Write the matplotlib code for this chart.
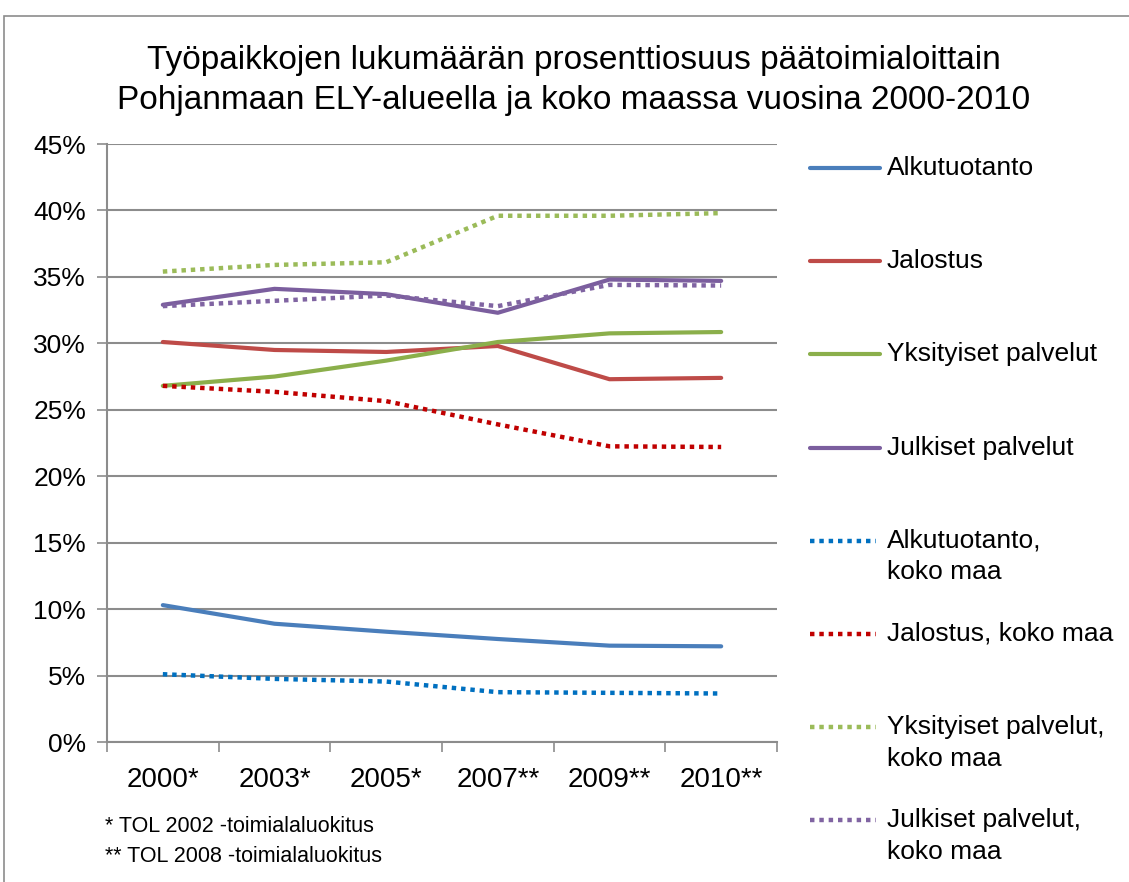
import matplotlib
matplotlib.use("Agg")
import matplotlib.pyplot as plt
from matplotlib.lines import Line2D
from matplotlib.patches import Rectangle
from matplotlib.ticker import MultipleLocator, FuncFormatter

plt.rcParams['font.family'] = ['Liberation Sans', 'DejaVu Sans']

# Data (percent)
years = ['2000*', '2003*', '2005*', '2007**', '2009**', '2010**']
alkutuotanto = [10.3, 8.9, 8.3, 7.75, 7.25, 7.2]
jalostus = [30.1, 29.5, 29.35, 29.8, 27.3, 27.4]
yksityiset = [26.8, 27.5, 28.7, 30.1, 30.75, 30.85]
julkiset = [32.9, 34.1, 33.7, 32.3, 34.8, 34.7]
alkutuotanto_maa = [5.1, 4.75, 4.55, 3.75, 3.7, 3.65]
jalostus_maa = [26.8, 26.35, 25.65, 23.9, 22.25, 22.2]
yksityiset_maa = [35.4, 35.9, 36.1, 39.6, 39.6, 39.8]
julkiset_maa = [32.8, 33.2, 33.6, 32.8, 34.4, 34.35]

series = [
    ('Alkutuotanto', alkutuotanto, '#4A7EBB', '-'),
    ('Jalostus', jalostus, '#BE4B48', '-'),
    ('Yksityiset palvelut', yksityiset, '#8BAF4B', '-'),
    ('Julkiset palvelut', julkiset, '#7B5E9E', '-'),
    ('Alkutuotanto,\nkoko maa', alkutuotanto_maa, '#0070C0', ':'),
    ('Jalostus, koko maa', jalostus_maa, '#C00000', ':'),
    ('Yksityiset palvelut,\nkoko maa', yksityiset_maa, '#9BBB59', ':'),
    ('Julkiset palvelut,\nkoko maa', julkiset_maa, '#8064A2', ':'),
]

W, H = 1129, 882
fig = plt.figure(figsize=(W / 100, H / 100), dpi=100)

# outer chart frame
fig.add_artist(Rectangle((4 / W, -0.1), 1.2, 1 - 16 / H + 0.1, transform=fig.transFigure,
                         fill=False, edgecolor='#8c8c8c', lw=1.2))

ax = fig.add_axes([107 / W, 1 - 742 / H, (777 - 107) / W, (742 - 144) / H])
x = list(range(len(years)))
dotted = (0, (1.0, 1.1))
for label, vals, color, ls in series:
    ax.plot(x, vals, color=color, lw=3.0 if ls == '-' else 3.2,
            linestyle='-' if ls == '-' else dotted,
            solid_capstyle='round', dash_capstyle='butt')

ax.set_xlim(-0.5, len(years) - 0.5)
ax.set_ylim(0, 45)
ax.yaxis.set_major_locator(MultipleLocator(5))
ax.yaxis.set_major_formatter(FuncFormatter(lambda v, p: f'{v:.0f}%'))
ax.set_xticks([i + 0.5 for i in range(-1, len(years))], minor=False)
ax.set_xticklabels([])
ax.set_xticks(x, minor=True)
ax.set_xticklabels(years, minor=True)
ax.tick_params(axis='x', which='minor', length=0, pad=18, labelsize=20)
ax.tick_params(axis='x', which='major', length=7, width=1.2, color='#8c8c8c', direction='out')
ax.tick_params(axis='y', length=7, width=1.2, color='#8c8c8c', direction='out', labelsize=19, pad=8)
ax.grid(axis='y', color='#8c8c8c', lw=1.5)
ax.set_axisbelow(True)
for s in ['top', 'right']:
    ax.spines[s].set_visible(False)
for s in ['left', 'bottom']:
    ax.spines[s].set_color('#8c8c8c')
    ax.spines[s].set_linewidth(1.5)

fig.text(574 / W, 1 - 60 / H, 'Työpaikkojen lukumäärän prosenttiosuus päätoimialoittain',
         ha='center', va='center', fontsize=24)
fig.text(574 / W, 1 - 101 / H, 'Pohjanmaan ELY-alueella ja koko maassa vuosina 2000-2010',
         ha='center', va='center', fontsize=24)

fig.text(105 / W, 1 - 826 / H, '* TOL 2002 -toimialaluokitus', ha='left', va='center', fontsize=15.5)
fig.text(105 / W, 1 - 857 / H, '** TOL 2008 -toimialaluokitus', ha='left', va='center', fontsize=15.5)

# legend
y0, step = 168, 93.2
for i, (label, vals, color, ls) in enumerate(series):
    yy = 1 - (y0 + i * step) / H
    x1 = 880 if ls == '-' else 876
    fig.add_artist(Line2D([810 / W, x1 / W], [yy, yy], transform=fig.transFigure, color=color,
                          lw=3.0 if ls == '-' else 3.2, linestyle='-' if ls == '-' else dotted,
                          solid_capstyle='round', dash_capstyle='butt'))
    fig.text(887 / W, yy + 12 / H, label, ha='left', va='top', fontsize=19, linespacing=1.4)

fig.savefig('out.png', dpi=100)
